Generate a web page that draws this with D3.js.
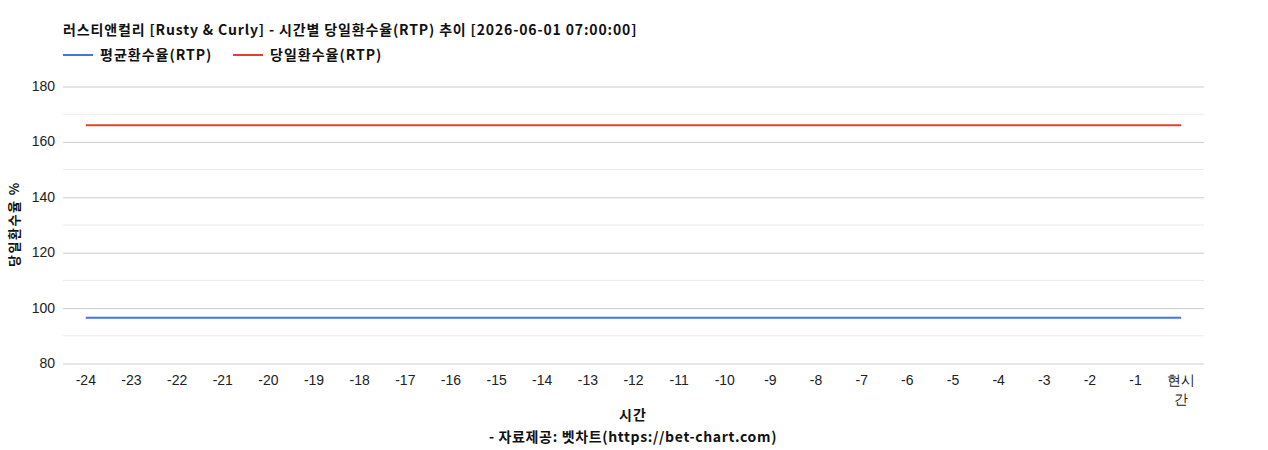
<!DOCTYPE html>
<html>
<head>
<meta charset="utf-8">
<script src="https://cdn.jsdelivr.net/npm/d3@7"></script>
<style>
  body { margin: 0; background: #fff; }
  #chartDiv { width: 1268px; height: 450px; }
  text { font-family: "Liberation Sans", Arial, sans-serif; }
  .ko { font-family: "Noto Sans CJK KR", "Noto Sans", sans-serif; font-weight: bold; }
</style>
</head>
<body>
<div id="chartDiv"></div>
<script>
const hours = ["-24","-23","-22","-21","-20","-19","-18","-17","-16","-15","-14","-13",
  "-12","-11","-10","-9","-8","-7","-6","-5","-4","-3","-2","-1","현시간"];
const avgRtp = [96.3,96.3,96.3,96.3,96.3,96.3,96.3,96.3,96.3,96.3,96.3,96.3,
  96.3,96.3,96.3,96.3,96.3,96.3,96.3,96.3,96.3,96.3,96.3,96.3,96.3];
const dayRtp = [165.8,165.8,165.8,165.8,165.8,165.8,165.8,165.8,165.8,165.8,165.8,165.8,
  165.8,165.8,165.8,165.8,165.8,165.8,165.8,165.8,165.8,165.8,165.8,165.8,165.8];
const yTicks = [80, 100, 120, 140, 160, 180];
const yMinor = [90, 110, 130, 150, 170];
const seriesNames = ["평균환수율(RTP)", "당일환수율(RTP)"];
const seriesColors = ["#4374e0", "#e2412a"];

const width = 1268, height = 450;
const margin = {left: 63, right: 64, top: 86, bottom: 87};

const svg = d3.select("#chartDiv").append("svg")
    .attr("width", width)
    .attr("height", height);

const x = d3.scaleBand()
    .domain(hours)
    .range([margin.left, width - margin.right]);

const y = d3.scaleLinear()
    .domain([80, 180])
    .range([height - margin.bottom, margin.top]);

// 보조 눈금선
svg.append("g").selectAll("line").data(yMinor).enter().append("line")
    .attr("x1", margin.left).attr("x2", width - margin.right)
    .attr("y1", d => y(d) + 0.5).attr("y2", d => y(d) + 0.5)
    .attr("stroke", "#ebebeb");

// y축
const yAxis = svg.append("g")
    .attr("transform", `translate(${margin.left},0)`)
    .call(d3.axisLeft(y).tickValues(yTicks).tickSize(-(width - margin.left - margin.right)).tickPadding(8));
yAxis.select(".domain").remove();
yAxis.selectAll(".tick line").attr("stroke", "#cccccc").attr("transform", "translate(0,0.5)");
yAxis.selectAll(".tick text").attr("font-size", 14).attr("fill", "#222")
    .attr("font-family", "Liberation Sans, Arial, sans-serif");

// x축
const xAxis = svg.append("g")
    .attr("transform", `translate(0,${height - margin.bottom})`)
    .call(d3.axisBottom(x).tickSize(0).tickPadding(12));
xAxis.select(".domain").remove();
xAxis.selectAll(".tick text").attr("font-size", 14).attr("fill", "#222")
    .attr("font-family", "Liberation Sans, Arial, sans-serif")
    .each(function(d) {
      if (d === "현시간") {
        const t = d3.select(this).text(null);
        t.append("tspan").attr("x", 0).attr("dy", "0.71em").text("현시");
        t.append("tspan").attr("x", 0).attr("dy", "1.35em").text("간");
      }
    });
xAxis.selectAll(".tick text").filter(d => d === "현시간").attr("dy", null);

// 선
const line = d3.line()
    .x((d, i) => x(hours[i]) + x.bandwidth() / 2)
    .y(d => y(d));

[avgRtp, dayRtp].forEach((s, k) => {
  svg.append("path")
      .datum(s)
      .attr("fill", "none")
      .attr("stroke", seriesColors[k])
      .attr("stroke-width", 2)
      .attr("d", line);
});

// 제목
svg.append("text").attr("class", "ko")
    .attr("x", 63).attr("y", 35)
    .attr("font-size", 14).attr("fill", "#111")
    .attr("letter-spacing", "0.85px")
    .text("러스티앤컬리 [Rusty & Curly] - 시간별 당일환수율(RTP) 추이 [2026-06-01 07:00:00]");

// 범례
const legendX = [63, 233];
seriesNames.forEach((n, k) => {
  const g = svg.append("g").attr("transform", `translate(${legendX[k]},55)`);
  g.append("line").attr("x1", 0).attr("x2", 30).attr("stroke", seriesColors[k]).attr("stroke-width", 2);
  g.append("text").attr("class", "ko").attr("x", 37).attr("y", 5)
      .attr("font-size", 14).attr("fill", "#111")
      .attr("letter-spacing", "1px").text(n);
});

// 축 제목
svg.append("text").attr("class", "ko")
    .attr("transform", `translate(19,224) rotate(-90)`)
    .attr("text-anchor", "middle")
    .attr("font-size", 13).attr("fill", "#111")
    .attr("letter-spacing", "1.5px")
    .text("당일환수율 %");

svg.append("text").attr("class", "ko")
    .attr("x", 633).attr("y", 420)
    .attr("text-anchor", "middle")
    .attr("font-size", 14).attr("fill", "#111")
    .attr("letter-spacing", "1px")
    .text("시간");

svg.append("text").attr("class", "ko")
    .attr("x", 633).attr("y", 442)
    .attr("text-anchor", "middle")
    .attr("font-size", 14).attr("fill", "#111")
    .attr("letter-spacing", "0.65px")
    .text("- 자료제공: 벳차트(https://bet-chart.com)");
</script>
</body>
</html>
